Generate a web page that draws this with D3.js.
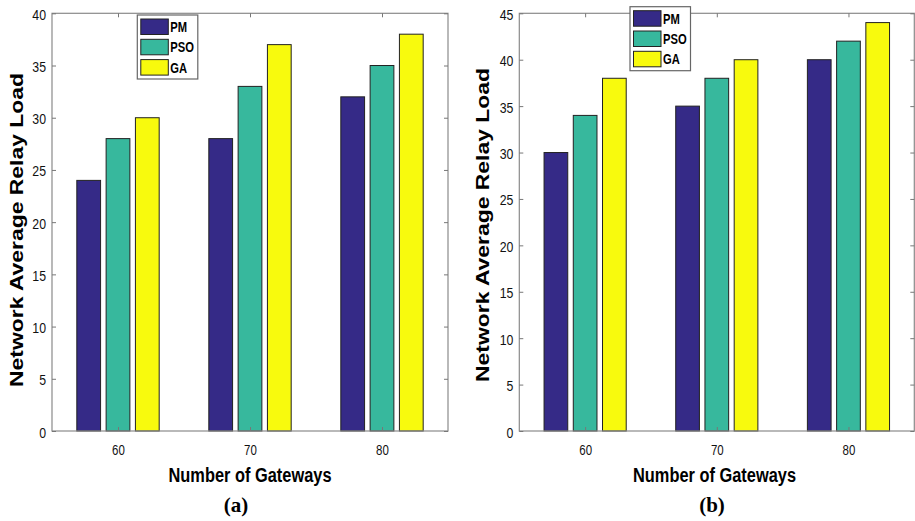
<!DOCTYPE html>
<html>
<head>
<meta charset="utf-8">
<script src="https://cdnjs.cloudflare.com/ajax/libs/d3/7.8.5/d3.min.js"></script>
<style>
  body { margin: 0; background: #fff; }
  text { font-family: "Liberation Sans", Arial, sans-serif; }
</style>
</head>
<body>
<div id="chart"></div>
<script>
const gateways = [60, 70, 80];
const seriesNames = ["PM", "PSO", "GA"];
const colors = ["#352a87", "#37b89d", "#f8fa0d"];

// panel (a)
const pmA = [24, 28, 32];
const psoA = [28, 33, 35];
const gaA = [30, 37, 38];
const ticksA = [0, 5, 10, 15, 20, 25, 30, 35, 40];

// panel (b)
const pmB = [30, 35, 40];
const psoB = [34, 38, 42];
const gaB = [38, 40, 44];
const ticksB = [0, 5, 10, 15, 20, 25, 30, 35, 40, 45];

let WIDTH = 915,
    HEIGHT = 521;

let svg = d3.select("#chart")
    .append("svg")
    .attr("width", WIDTH)
    .attr("height", HEIGHT)
    .style("display", "block");

// make text narrower, like the squashed original
function squeeze(sel, f) {
    sel.each(function () {
        let w = this.getComputedTextLength();
        d3.select(this).attr("textLength", w * f).attr("lengthAdjust", "spacingAndGlyphs");
    });
}

function drawPanel(p) {
    let x = d3.scaleLinear().domain([55, 85]).range([p.left, p.right]);
    let y = d3.scaleLinear().domain([0, p.ymax]).range([431, 13.3]);
    let g = svg.append("g");

    let rows = [];
    gateways.forEach((gw, i) => {
        p.series.forEach((s, j) => {
            rows.push({ gw: gw, j: j, v: s[i] });
        });
    });

    g.selectAll("rect.bar")
        .data(rows)
        .enter()
        .append("rect")
        .attr("class", "bar")
        .attr("x", d => x(d.gw + (d.j - 1) * 2.22 - 0.9))
        .attr("width", x(56.8) - x(55))
        .attr("y", d => y(d.v))
        .attr("height", d => y(0) - y(d.v))
        .style("fill", d => colors[d.j])
        .style("stroke", "#222")
        .style("stroke-width", 1);

    // box
    g.append("rect")
        .attr("x", p.left).attr("y", 13.3)
        .attr("width", p.right - p.left).attr("height", 431 - 13.3)
        .style("fill", "none").style("stroke", "#8a8a8a").style("stroke-width", 1.2);

    let axL = g.append("g").attr("transform", `translate(${p.left},0)`)
        .call(d3.axisLeft(y).tickValues(p.ticks).tickSize(-4).tickPadding(6));
    let axR = g.append("g").attr("transform", `translate(${p.right},0)`)
        .call(d3.axisRight(y).tickValues(p.ticks).tickSize(-4).tickFormat(""));
    let axB = g.append("g").attr("transform", "translate(0,431)")
        .call(d3.axisBottom(x).tickValues(gateways).tickSize(-4).tickPadding(14));
    let axT = g.append("g").attr("transform", "translate(0,13.3)")
        .call(d3.axisTop(x).tickValues(gateways).tickSize(-4).tickFormat(""));

    [axL, axR, axB, axT].forEach(a => {
        a.select(".domain").remove();
        a.selectAll("line").style("stroke", "#777");
    });
    axL.selectAll("text").style("font-size", "15px").style("fill", "#111").attr("dy", "0.4em");
    axB.selectAll("text").style("font-size", "14px").style("fill", "#111");
    squeeze(axL.selectAll("text"), 0.82);
    squeeze(axB.selectAll("text"), 0.82);

    // legend
    let lg = g.append("g").attr("transform", `translate(${p.legX},${p.legY})`);
    lg.append("rect")
        .attr("width", 60.5).attr("height", 64)
        .style("fill", "#fff").style("stroke", "#666").style("stroke-width", 1.2);
    seriesNames.forEach((n, j) => {
        lg.append("rect")
            .attr("x", 3.5).attr("y", 4 + j * 20.3)
            .attr("width", 27.5).attr("height", 15.5)
            .style("fill", colors[j]).style("stroke", "#222");
        lg.append("text")
            .attr("x", 33).attr("y", 17 + j * 20.3)
            .style("font-size", "14px").style("font-weight", "bold")
            .text(n);
    });
    squeeze(lg.selectAll("text"), 0.8);

    // axis titles
    g.append("text")
        .attr("transform", `translate(${p.yLabX},${p.yLabY}) rotate(-90)`)
        .attr("text-anchor", "middle")
        .style("font-size", "19px").style("font-weight", "bold")
        .attr("textLength", 314).attr("lengthAdjust", "spacingAndGlyphs")
        .text("Network Average Relay Load");

    g.append("text")
        .attr("x", p.xLabX).attr("y", 482)
        .attr("text-anchor", "middle")
        .style("font-size", "19.5px").style("font-weight", "bold")
        .attr("textLength", 163).attr("lengthAdjust", "spacingAndGlyphs")
        .text("Number of Gateways");

    g.append("text")
        .attr("x", p.capX).attr("y", 512)
        .attr("text-anchor", "middle")
        .style("font-family", "'Liberation Serif', 'Times New Roman', serif")
        .style("font-size", "21px").style("font-weight", "bold")
        .text(p.caption);
}

drawPanel({
    left: 52, right: 448, ymax: 40, ticks: ticksA,
    series: [pmA, psoA, gaA],
    legX: 137.3, legY: 15,
    yLabX: 23, yLabY: 230, xLabX: 250, capX: 236, caption: "(a)"
});

drawPanel({
    left: 519.3, right: 914.3, ymax: 45, ticks: ticksB,
    series: [pmB, psoB, gaB],
    legX: 630, legY: 6.7,
    yLabX: 489, yLabY: 225, xLabX: 714.5, capX: 712, caption: "(b)"
});
</script>
</body>
</html>
